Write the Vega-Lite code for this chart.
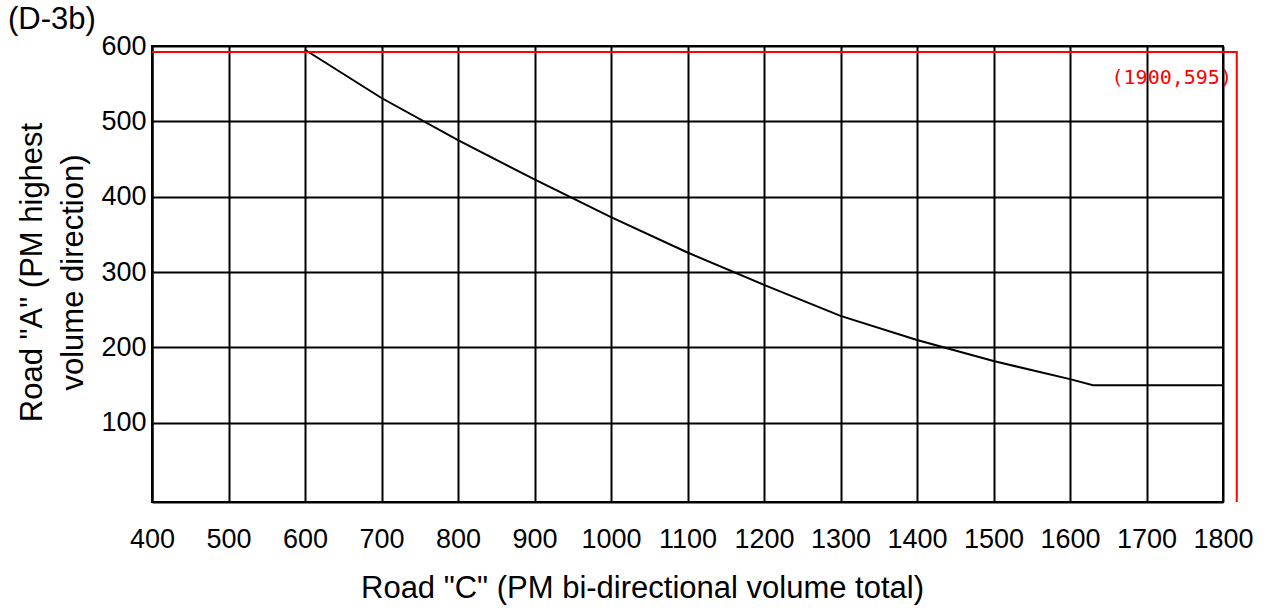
{
  "$schema": "https://vega.github.io/schema/vega-lite/v6.json",
  "autosize": "none",
  "width": 1071,
  "height": 456,
  "padding": {"left": 152, "top": 46, "right": 48, "bottom": 109},
  "background": "white",
  "config": {"font": "Liberation Sans", "view": {"stroke": "black", "strokeWidth": 2}},
  "title": {"text": "(D-3b)", "anchor": "start", "frame": "group", "font": "Liberation Sans", "fontSize": 31, "fontWeight": "normal", "color": "black", "dx": -144, "dy": 36, "baseline": "alphabetic", "offset": 8},
  "datasets": {
    "curve": [
      {"x": 600, "y": 595}, {"x": 700, "y": 531}, {"x": 800, "y": 475}, {"x": 900, "y": 423},
      {"x": 1000, "y": 373}, {"x": 1100, "y": 326}, {"x": 1200, "y": 283}, {"x": 1300, "y": 242},
      {"x": 1400, "y": 210}, {"x": 1500, "y": 182}, {"x": 1600, "y": 158}, {"x": 1630, "y": 150},
      {"x": 1800, "y": 150}
    ],
    "ref": [
      {"x": 400, "y": 592, "o": 1}, {"x": 1818, "y": 592, "o": 2}, {"x": 1818, "y": -5, "o": 3}
    ],
    "note": [{"x": 1733, "y": 550, "label": "(1900,595)"}]
  },
  "encoding": {
    "x": {
      "field": "x", "type": "quantitative",
      "scale": {"domain": [400, 1800], "nice": false, "zero": false},
      "axis": {
        "values": [400, 500, 600, 700, 800, 900, 1000, 1100, 1200, 1300, 1400, 1500, 1600, 1700, 1800],
        "format": "d",
        "grid": true, "gridColor": "black", "gridWidth": 2, "gridOpacity": 1,
        "ticks": false, "domainColor": "black", "domainWidth": 2,
        "labelFont": "Liberation Sans", "labelFontSize": 27, "labelColor": "black",
        "labelBaseline": "alphabetic", "labelPadding": 45, "labelFlush": false, "labelOverlap": false,
        "title": "Road \"C\" (PM bi-directional volume total)",
        "titleFont": "Liberation Sans", "titleFontSize": 31, "titleFontWeight": "normal", "titleColor": "black",
        "titleX": 490, "titleY": 95, "titleAlign": "center", "titleBaseline": "alphabetic"
      }
    },
    "y": {
      "field": "y", "type": "quantitative",
      "scale": {"domain": [-5, 600], "nice": false, "zero": false},
      "axis": {
        "values": [100, 200, 300, 400, 500, 600],
        "format": "d",
        "grid": true, "gridColor": "black", "gridWidth": 2, "gridOpacity": 1,
        "ticks": false, "domainColor": "black", "domainWidth": 2,
        "labelFont": "Liberation Sans", "labelFontSize": 27, "labelColor": "black",
        "labelBaseline": "middle", "labelPadding": 6, "labelFlush": false, "labelOverlap": false,
        "title": ["Road \"A\" (PM highest", "volume direction)"],
        "titleFont": "Liberation Sans", "titleFontSize": 31, "titleFontWeight": "normal", "titleColor": "black",
        "titleX": -111, "titleY": 226, "titleAngle": -90, "titleAlign": "center", "titleBaseline": "alphabetic",
        "titleLineHeight": 41
      }
    }
  },
  "layer": [
    {
      "data": {"name": "curve"},
      "mark": {"type": "line", "color": "black", "strokeWidth": 2}
    },
    {
      "data": {"name": "ref"},
      "mark": {"type": "line", "color": "#ff0000", "strokeWidth": 2, "clip": false},
      "encoding": {"order": {"field": "o", "type": "quantitative"}}
    },
    {
      "data": {"name": "note"},
      "mark": {"type": "text", "color": "#ff0000", "font": "DejaVu Sans Mono", "fontSize": 20, "align": "center", "baseline": "alphabetic"},
      "encoding": {"text": {"field": "label"}}
    }
  ]
}
